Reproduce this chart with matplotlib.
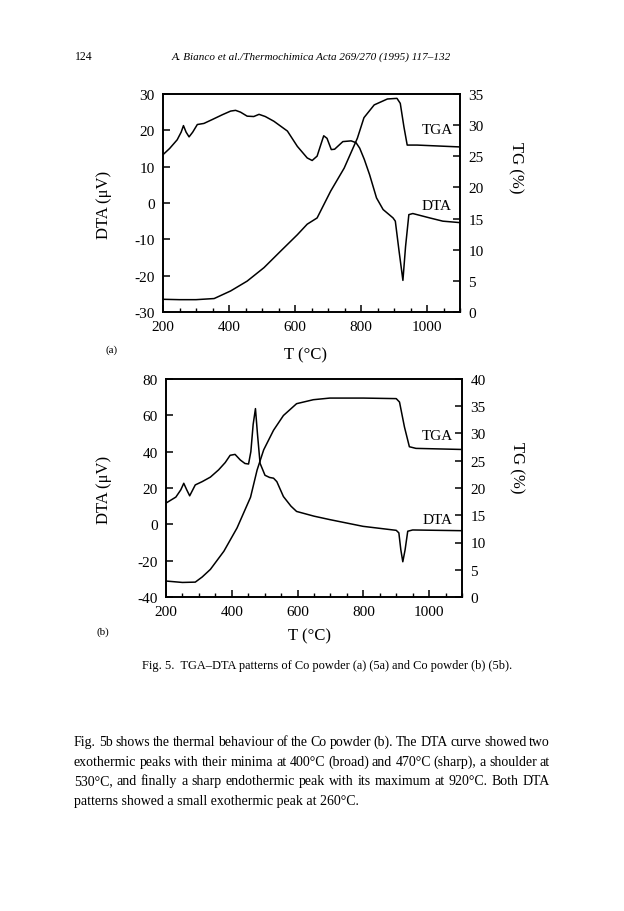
import matplotlib
matplotlib.use("Agg")
import matplotlib.pyplot as plt
from matplotlib.ticker import MultipleLocator
from matplotlib.font_manager import FontProperties

plt.rcParams['font.family'] = ['Liberation Serif', 'DejaVu Serif']
plt.rcParams['axes.unicode_minus'] = False

W, H = 624, 912

# Fig. 5a - Co powder (a)
temp_a_dta = [200, 220, 243, 255, 262, 270, 279, 290, 304, 324, 350, 380, 405, 420, 435, 455,
              475, 491, 510, 536, 577, 607, 637, 652, 667, 678, 687, 697, 710, 720, 745, 770,
              785, 796, 810, 826, 847, 867, 897, 904, 915, 927, 935, 945, 957, 1008, 1048, 1100]
dta_a = [13.3, 15, 17.4, 19.5, 21.3, 19.5, 18.2, 19.5, 21.6, 21.9, 23, 24.3, 25.3, 25.5, 25, 23.9,
         23.8, 24.4, 23.8, 22.5, 19.8, 15.6, 12.4, 11.7, 12.9, 16, 18.5, 17.8, 14.7, 14.8, 16.9, 17.1,
         16.6, 15.1, 12, 7.8, 1.4, -1.8, -4.1, -5, -13, -21.3, -12, -3.2, -2.9, -4.1, -5, -5.4]
temp_a_tg = [200, 250, 300, 355, 405, 455, 506, 557, 607, 637, 667, 708, 749, 789, 809, 840,
             880, 909, 919, 930, 940, 970, 1100]
tg_a = [2.04, 1.98, 1.98, 2.16, 3.38, 4.96, 7.12, 9.8, 12.4, 14.1, 15.1, 19.4, 23.1, 27.9, 31.2, 33.25,
        34.2, 34.3, 33.5, 29.75, 26.8, 26.8, 26.5]

# Fig. 5b - Co powder (b)
temp_b_dta = [200, 230, 245, 254, 263, 272, 289, 310, 335, 360, 380, 395, 410, 426, 440, 451,
              458, 465, 472, 478, 486, 501, 515, 527, 537, 557, 580, 597, 650, 698, 799, 900,
              908, 914, 920, 927, 935, 950, 1100]
dta_b = [11.7, 15, 19, 22.6, 19, 15.7, 21.7, 23.5, 26, 30, 34, 38, 38.5, 35.4, 33.5, 33.2,
         40, 55, 63.7, 50, 33.6, 27, 25.8, 25.4, 23.5, 15.3, 10, 7.1, 4.5, 2.6, -1.1, -3.3,
         -4.7, -14, -20.6, -14, -3.8, -3.1, -3.5]
temp_b_tg = [200, 250, 289, 310, 335, 376, 416, 457, 477, 497, 527, 557, 597, 648, 698, 800,
             900, 910, 925, 940, 960, 1100]
tg_b = [2.93, 2.67, 2.73, 3.67, 5.07, 8.4, 12.67, 18.3, 23.3, 27.0, 30.6, 33.3, 35.47, 36.2, 36.5, 36.5,
        36.4, 35.77, 31.2, 27.57, 27.27, 27.07]

x_ticks = [200, 400, 600, 800, 1000]


def px_axes(fig, x0, y0, x1, y1):
    # axes box given in page pixels (top-left origin)
    return fig.add_axes([x0 / W, 1 - y1 / H, (x1 - x0) / W, (y1 - y0) / H])


def ftext(fig, x, y, s, **kw):
    return fig.text(x / W, 1 - y / H, s, **kw)


def draw_panel(fig, box, temps_dta, dta, temps_tg, tg, ylim, yticks, tglim, tgticks,
               tga_pos, dta_pos):
    ax = px_axes(fig, *box)
    ax.plot(temps_dta, dta, color='black', lw=1.1)
    ax.set_xlim(200, 1100)
    ax.set_ylim(*ylim)
    ax.set_xticks(x_ticks)
    ax.xaxis.set_minor_locator(MultipleLocator(50))
    ax.set_yticks(yticks)
    ax.tick_params(axis='x', which='major', direction='in', length=5, width=1.1, labelsize=11, pad=6)
    ax.tick_params(axis='x', which='minor', direction='in', length=3, width=1.0)
    ax.tick_params(axis='y', direction='in', length=5, width=1.1, labelsize=11, pad=6)
    for sp in ax.spines.values():
        sp.set_linewidth(1.2)

    ax2 = ax.twinx()
    ax2.plot(temps_tg, tg, color='black', lw=1.1)
    ax2.set_ylim(*tglim)
    ax2.set_yticks(tgticks)
    ax2.tick_params(axis='y', direction='in', length=5, width=1.1, labelsize=11, pad=6)
    for sp in ax2.spines.values():
        sp.set_linewidth(1.2)

    ftext(fig, tga_pos[0], tga_pos[1], 'TGA', fontsize=11, ha='center', va='center')
    ftext(fig, dta_pos[0], dta_pos[1], 'DTA', fontsize=11, ha='center', va='center')
    return ax, ax2


def word_widths(renderer, words, size):
    prop = FontProperties(family='Liberation Serif', size=size)
    return [renderer.get_text_width_height_descent(w_, prop, ismath=False)[0] for w_ in words]


fig = plt.figure(figsize=(W / 100, H / 100), dpi=100)

# header
ftext(fig, 75, 57, '124', fontsize=8.5, ha='left', va='center')
ftext(fig, 311, 57, 'A. Bianco et al./Thermochimica Acta 269/270 (1995) 117\u2013132',
      fontsize=8, style='italic', ha='center', va='center')

# panel (a)
draw_panel(fig, (163, 95, 460, 313), temp_a_dta, dta_a, temp_a_tg, tg_a,
           (-30, 30), range(-30, 31, 10), (0, 35), range(0, 36, 5),
           (437, 131), (437, 206))
ftext(fig, 104, 205, 'DTA (\u03bcV)', fontsize=12, rotation=90, ha='center', va='center')
ftext(fig, 516, 168, 'TG (%)', fontsize=12, rotation=270, ha='center', va='center')
ftext(fig, 306, 355, 'T (\u00b0C)', fontsize=12, ha='center', va='center')
ftext(fig, 112, 350, '(a)', fontsize=8, ha='center', va='center')

# panel (b)
draw_panel(fig, (166, 380, 462, 598), temp_b_dta, dta_b, temp_b_tg, tg_b,
           (-40, 80), range(-40, 81, 20), (0, 40), range(0, 41, 5),
           (437, 437), (438, 520))
ftext(fig, 104, 490, 'DTA (\u03bcV)', fontsize=12, rotation=90, ha='center', va='center')
ftext(fig, 517, 468, 'TG (%)', fontsize=12, rotation=270, ha='center', va='center')
ftext(fig, 310, 636, 'T (\u00b0C)', fontsize=12, ha='center', va='center')
ftext(fig, 103, 632, '(b)', fontsize=8, ha='center', va='center')

# caption
ftext(fig, 327, 666, 'Fig. 5.  TGA\u2013DTA patterns of Co powder (a) (5a) and Co powder (b) (5b).',
      fontsize=8.9, ha='center', va='center')

# body text, justified between x0 and x1
body = [
    'Fig. 5b shows the thermal behaviour of the Co powder (b). The DTA curve showed two',
    'exothermic peaks with their minima at 400\u00b0C (broad) and 470\u00b0C (sharp), a shoulder at',
    '530\u00b0C, and finally a sharp endothermic peak with its maximum at 920\u00b0C. Both DTA',
    'patterns showed a small exothermic peak at 260\u00b0C.',
]
x0, x1 = 74, 550
renderer = fig.canvas.get_renderer()

# largest size that still leaves a readable gap on every justified line
size = 11.0
while size > 8:
    ok = True
    for line in body[:-1]:
        words = line.split()
        gap = (x1 - x0 - sum(word_widths(renderer, words, size))) / (len(words) - 1)
        if gap < 2.6:
            ok = False
    if ok:
        break
    size -= 0.1

for i, line in enumerate(body):
    y = 746 + i * 19.7
    if i == len(body) - 1:
        ftext(fig, x0, y, line, fontsize=size, va='baseline', family='Liberation Serif')
        continue
    words = line.split()
    widths = word_widths(renderer, words, size)
    gap = (x1 - x0 - sum(widths)) / (len(words) - 1)
    x = x0
    for w_, wd in zip(words, widths):
        ftext(fig, x, y, w_, fontsize=size, va='baseline', family='Liberation Serif')
        x += wd + gap

fig.savefig('out.png', dpi=100)
